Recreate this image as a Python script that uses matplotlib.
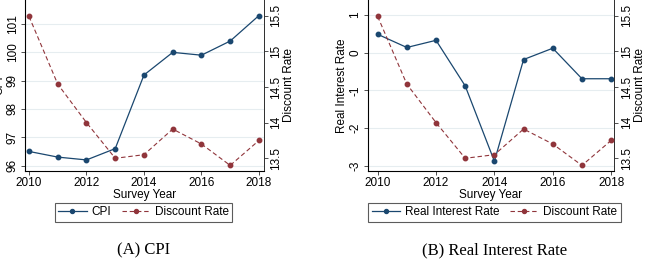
import matplotlib.pyplot as plt

years = [2010, 2011, 2012, 2013, 2014, 2015, 2016, 2017, 2018]
cpi = [96.5, 96.3, 96.2, 96.6, 99.2, 100.0, 99.9, 100.4, 101.3]
real_rate = [0.49, 0.14, 0.33, -0.88, -2.88, -0.18, 0.12, -0.69, -0.69]
discount = [15.49, 14.54, 14.0, 13.5, 13.55, 13.91, 13.70, 13.40, 13.75]

cpi_ticks = [96, 97, 98, 99, 100, 101]
real_ticks = [-3, -2, -1, 0, 1]
disc_ticks = [13.5, 14, 14.5, 15, 15.5]
disc_labels = ['13.5', '14', '14.5', '15', '15.5']
year_ticks = [2010, 2012, 2014, 2016, 2018]

navy = '#1a476f'
maroon = '#90353b'
grid_c = '#e6edf0'

plt.rcParams['font.family'] = ['Liberation Sans', 'DejaVu Sans']

fig = plt.figure(figsize=(6.49, 2.59), dpi=100)


def panel(rect, y, ylabel, yticks, ylim, xlim, label, legx, caption):
    ax = fig.add_axes(rect)
    ax.set_xlim(*xlim)
    ax.set_ylim(*ylim)
    l1, = ax.plot(years, y, color=navy, lw=0.9, marker='o', ms=3.2, zorder=3)
    ax.set_yticks(yticks)
    ax.set_yticklabels([str(t) for t in yticks], rotation=90, va='center')
    ax.set_xticks(year_ticks)
    ax.grid(axis='y', color=grid_c, lw=0.8)
    ax.set_axisbelow(True)
    ax.spines['top'].set_visible(False)
    for s in ['left', 'bottom', 'right']:
        ax.spines[s].set_linewidth(0.7)
        ax.spines[s].set_color('#333333')
    ax.tick_params(labelsize=8.5, length=3, width=0.6, pad=1.5, color='#333333')
    ax.set_xlabel('Survey Year', fontsize=8.5, labelpad=0)
    ax.set_ylabel(ylabel, fontsize=8.5, labelpad=1)

    ax2 = ax.twinx()
    ax2.set_ylim(13.326, 15.72)
    l2, = ax2.plot(years, discount, color=maroon, lw=0.8, ls=(0, (4, 2.5)),
                   marker='o', ms=3.2, zorder=3)
    ax2.set_yticks(disc_ticks)
    ax2.set_yticklabels(disc_labels, rotation=90, va='center')
    ax2.spines['top'].set_visible(False)
    ax2.spines['right'].set_linewidth(0.7)
    ax2.spines['right'].set_color('#333333')
    ax2.tick_params(labelsize=8.5, length=3, width=0.6, pad=1.5, color='#333333')
    ax2.set_ylabel('Discount Rate', fontsize=8.5, labelpad=1)

    leg = fig.legend([l1, l2], [label, 'Discount Rate'], loc='center',
                     bbox_to_anchor=(legx, 0.181), ncol=2, fontsize=8.5,
                     fancybox=False, handlelength=2.4, columnspacing=0.9,
                     handletextpad=0.4, borderpad=0.3, borderaxespad=0,
                     markerscale=0.9)
    leg.get_frame().set_edgecolor('#333333')
    leg.get_frame().set_linewidth(0.8)

    fig.text(legx, 0.035, caption, ha='center', va='center', fontsize=12,
             family=['Liberation Serif', 'DejaVu Serif'])
    return ax


panel([0.0385, 0.341, 0.368, 0.659], cpi, 'CPI', cpi_ticks, (95.82, 101.85),
      (2009.86, 2018.17), 'CPI', 0.221, '(A) CPI')
panel([0.5666, 0.341, 0.380, 0.659], real_rate, 'Real Interest Rate', real_ticks,
      (-3.13, 1.40), (2009.66, 2018.11), 'Real Interest Rate', 0.762,
      '(B) Real Interest Rate')

fig.savefig('out.png', dpi=100)
